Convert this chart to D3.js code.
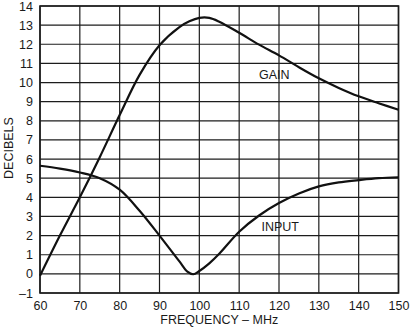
<!DOCTYPE html>
<html><head><meta charset="utf-8">
<script src="https://cdn.jsdelivr.net/npm/d3@7"></script>
<style>html,body{margin:0;padding:0;background:#fff;}svg{display:block;}</style>
</head><body>
<script>
const freqGain = [60,65,70,75,80,85,90,95,97.5,100,102.5,105,110,115,120,125,130,135,140,145,150];
const gainValues = [-0.1,2.0,4.0,6.1,8.3,10.4,11.95,12.9,13.2,13.38,13.38,13.18,12.6,11.98,11.42,10.8,10.22,9.72,9.28,8.92,8.58];
const freqInput = [60,65,70,75,80,85,90,95,97,98.5,100,102.5,105,110,115,120,125,130,135,140,145,150];
const inputValues = [5.65,5.5,5.3,5.0,4.4,3.3,2.0,0.65,0.12,-0.02,0.15,0.55,1.05,2.2,3.05,3.7,4.2,4.57,4.78,4.9,5.0,5.05];
const xTicks = [60,70,80,90,100,110,120,130,140,150];
const yTicks = [-1,0,1,2,3,4,5,6,7,8,9,10,11,12,13,14];
const yTickLabels = ["–1","0","1","2","3","4","5","6","7","8","9","10","11","12","13","14"];
const seriesLabels = ["GAIN","INPUT"];
const xTitle = "FREQUENCY – MHz";
const yTitle = "DECIBELS";

const W = 413, H = 331;
const m = {left:40, right:15, top:6, bottom:38};
const FONT = "'Liberation Sans', Arial, sans-serif";
const svg = d3.select("body").append("svg").attr("width",W).attr("height",H)
  .style("font-family",FONT);
const x = d3.scaleLinear().domain([60,150]).range([m.left, 398.5]);
const y = d3.scaleLinear().domain([-1,14]).range([293, m.top]);
const ink = "#1c1c1c";
const txt = "#1a1a1a";

// grid
svg.append("g").selectAll("line").data(yTicks).join("line")
  .attr("x1",x(60)).attr("x2",x(150)).attr("y1",d=>y(d)).attr("y2",d=>y(d))
  .attr("stroke",ink).attr("stroke-width",1.2);
svg.append("g").selectAll("line").data(xTicks).join("line")
  .attr("y1",y(-1)).attr("y2",y(14)).attr("x1",d=>x(d)).attr("x2",d=>x(d))
  .attr("stroke",ink).attr("stroke-width",1.2);
svg.append("rect").attr("x",x(60)).attr("y",y(14)).attr("width",x(150)-x(60)).attr("height",y(-1)-y(14))
  .attr("fill","none").attr("stroke",ink).attr("stroke-width",1.6);

// axes labels
const xAxis = d3.axisBottom(x).tickValues(xTicks).tickSize(0).tickPadding(8);
const gx = svg.append("g").attr("transform",`translate(0,${y(-1)})`).call(xAxis);
gx.select(".domain").remove();
gx.selectAll("text").attr("font-size",12.5).attr("fill",txt).attr("font-family",FONT);
const yAxis = d3.axisLeft(y).tickValues(yTicks).tickFormat((d,i)=>yTickLabels[i]).tickSize(0).tickPadding(7);
const gy = svg.append("g").attr("transform",`translate(${x(60)},0)`).call(yAxis);
gy.select(".domain").remove();
gy.selectAll("text").attr("font-size",12.5).attr("fill",txt).attr("font-family",FONT);

svg.append("text").attr("x",(x(60)+x(150))/2).attr("y",324).attr("text-anchor","middle")
  .attr("font-size",12.5).attr("fill",txt).text(xTitle);
svg.append("text").attr("transform","translate(13,148) rotate(-90)").attr("text-anchor","middle")
  .attr("font-size",12.5).attr("fill",txt).text(yTitle);

// curves
const line = d3.line().curve(d3.curveCatmullRom.alpha(0.5)).x(d=>x(d[0])).y(d=>y(d[1]));
svg.append("path").datum(freqGain.map((f,i)=>[f,gainValues[i]]))
  .attr("d",line).attr("fill","none").attr("stroke","#111").attr("stroke-width",2.2);
svg.append("path").datum(freqInput.map((f,i)=>[f,inputValues[i]]))
  .attr("d",line).attr("fill","none").attr("stroke","#111").attr("stroke-width",2.2);

svg.append("text").attr("x",259).attr("y",78.5).attr("font-size",12.5).attr("fill",txt).text(seriesLabels[0]);
svg.append("text").attr("x",261.5).attr("y",231).attr("font-size",12.5).attr("fill",txt).text(seriesLabels[1]);
</script>
</body></html>
